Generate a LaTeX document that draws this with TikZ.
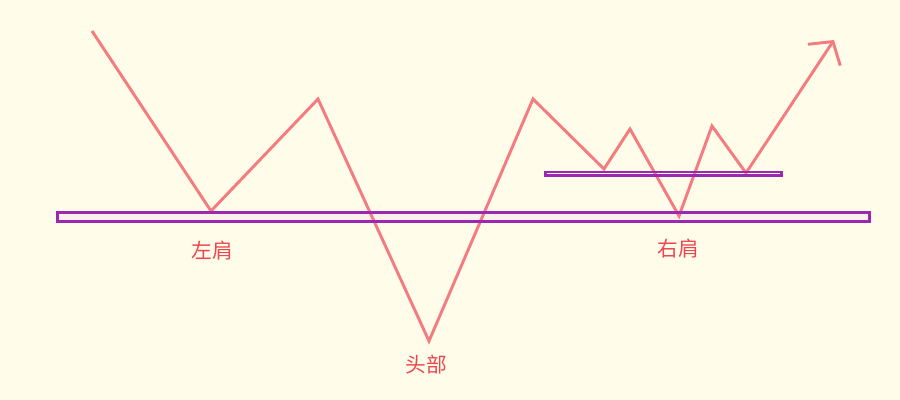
\documentclass[tikz,border=0pt]{standalone}
\usepackage{fontspec}
\newfontfamily\cjk{Noto Sans CJK SC}
\usetikzlibrary{arrows.meta}
\definecolor{bgc}{HTML}{FFFCE9}
\definecolor{linec}{HTML}{F47C80}
\definecolor{boxc}{HTML}{9C27B0}
\definecolor{boxfill}{HTML}{FBF0EA}
\definecolor{labc}{HTML}{EE4650}
\tikzset{
  trend/.style={draw=linec, line width=2.2pt, line join=miter, -{Straight Barb[length=12pt,width=29pt,line width=2.2pt]}},
  levelbox/.style={draw=boxc, line width=1.9pt},
  levelfill/.style={fill=boxfill, draw=none},
  lab/.style={text=labc, font=\cjk\fontsize{15.5pt}{18pt}\selectfont, inner sep=0pt}
}
\begin{document}
\begin{tikzpicture}[x=0.75pt,y=-0.75pt]
\fill[bgc] (0,0) rectangle (900,400);
\useasboundingbox (0,0) rectangle (900,400);
% coordinates of the price path
\coordinate (p0) at (92,31);
\coordinate (p1) at (211,211);
\coordinate (p2) at (318,99);
\coordinate (p3) at (429,341);
\coordinate (p4) at (533,99);
\coordinate (p5) at (604,169);
\coordinate (p6) at (630,129);
\coordinate (p7) at (679,216);
\coordinate (p8) at (712,126);
\coordinate (p9) at (746,173);
\coordinate (p10) at (834,40);
% level boxes (fill)
\path[levelfill] (57.5,212.3) rectangle (869.5,221.3);
\path[fill=white!60!boxfill] (545.5,172) rectangle (781.5,175.6);
% path
\draw[trend] (p0) -- (p1) -- (p2) -- (p3) -- (p4) -- (p5) -- (p6) -- (p7) -- (p8) -- (p9) -- (p10);
% level boxes (border)
\draw[levelbox] (57.5,212.3) rectangle (869.5,221.3);
\draw[levelbox] (545.5,172) rectangle (781.5,175.6);
% labels
\node[lab] (ls) at (212,251) {左肩};
\node[lab] (hd) at (426,365) {头部};
\node[lab] (rs) at (678,249) {右肩};
\end{tikzpicture}
\end{document}
